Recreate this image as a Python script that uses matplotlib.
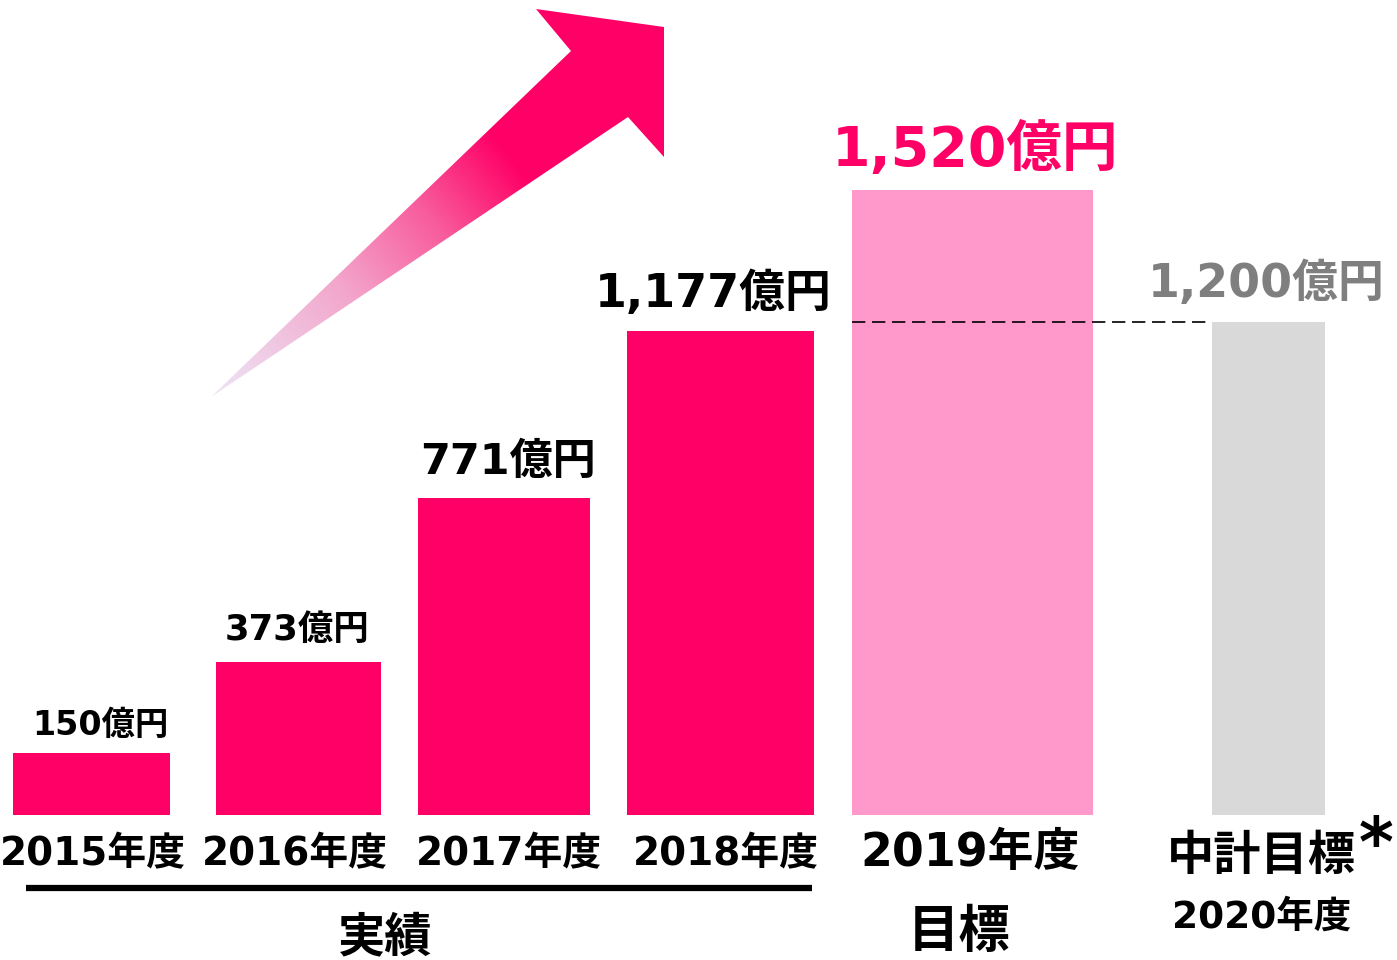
import matplotlib
matplotlib.use("Agg")
import matplotlib.pyplot as plt
import numpy as np
from matplotlib.colors import LinearSegmentedColormap
from matplotlib.patches import Polygon

plt.rcParams["font.family"] = ["DejaVu Sans", "Noto Sans CJK JP"]
plt.rcParams["font.weight"] = "bold"

# data
years = ["2015年度", "2016年度", "2017年度", "2018年度", "2019年度", "中計目標"]
values = [150, 373, 771, 1177, 1520, 1200]
value_labels = ["150億円", "373億円", "771億円", "1,177億円", "1,520億円", "1,200億円"]

# layout (pixel positions on a 1397x960 canvas)
bar_left = [13, 216, 418, 627, 852, 1212]
bar_right = [170, 381, 590, 814, 1093, 1325]
bar_colors = ["#FF0066"] * 4 + ["#FF99CC", "#D9D9D9"]
label_colors = ["black"] * 4 + ["#FF0066", "#7F7F7F"]
label_x = [100, 297, 508, 713, 975, 1266]
label_size = [24, 25.5, 31, 33, 40, 33]
label_gap = [18, 22, 24, 24, 24, 25]

W, H, BASE = 1397, 960, 815
PX = 0.411  # pixels per 億円

fig = plt.figure(figsize=(W / 100, H / 100), dpi=100)
ax = fig.add_axes([0, 0, 1, 1])
ax.set_xlim(0, W)
ax.set_ylim(-(H - BASE) / PX, BASE / PX)
ax.axis("off")

centers = [(l + r) / 2 for l, r in zip(bar_left, bar_right)]
widths = [r - l for l, r in zip(bar_left, bar_right)]
ax.bar(centers, values, width=widths, color=bar_colors, zorder=2)

for x, v, txt, c, fs, gap in zip(label_x, values, value_labels, label_colors, label_size, label_gap):
    ax.annotate(txt, (x, v), xytext=(0, gap * 0.72), textcoords="offset points",
                ha="center", va="baseline", fontsize=fs, color=c, fontweight="bold")

# dashed reference line from 2019 bar to the 中計 target
ax.plot([bar_left[4], bar_left[5]], [values[5], values[5]], ls=(0, (8, 4)), color="black", lw=1.2, zorder=3)

# overlay axes in pixel coordinates for decorations
ov = fig.add_axes([0, 0, 1, 1], facecolor="none")
ov.set_xlim(0, W)
ov.set_ylim(H, 0)
ov.axis("off")

# gradient arrow
arrow_pts = np.array([[211, 397], [571, 51], [536, 9], [664, 27], [664, 157], [628, 117]])
poly = Polygon(arrow_pts, closed=True, facecolor="none", edgecolor="none")
ov.add_patch(poly)
cmap = LinearSegmentedColormap.from_list(
    "arr", [(0, "#EDE6F6"), (0.3, "#F3A6CC"), (0.5, "#F85C9C"), (0.68, "#FF0066"), (1, "#FF0066")])
gx, gy = np.meshgrid(np.linspace(200, 670, 300), np.linspace(0, 400, 300))
d = np.array([650 - 211, 40 - 397], dtype=float)
t = ((gx - 211) * d[0] + (gy - 397) * d[1]) / (d @ d)
im = ov.imshow(np.clip(t, 0, 1), extent=(200, 670, 400, 0), cmap=cmap, vmin=0, vmax=1,
               origin="upper", aspect="auto", zorder=1)
im.set_clip_path(poly)

# category labels
for x, txt in zip([93, 295, 509, 726], years[:4]):
    ov.text(x, 865, txt, ha="center", va="baseline", fontsize=28, fontweight="bold")
ov.text(970, 866, years[4], ha="center", va="baseline", fontsize=33, fontweight="bold")
ov.text(1261, 870, years[5], ha="center", va="baseline", fontsize=34, fontweight="bold")
ov.text(1376, 866, "*", ha="center", va="baseline", fontsize=48, fontweight="bold")
ov.text(1262, 928, "2020年度", ha="center", va="baseline", fontsize=27, fontweight="bold")
ov.text(959, 947, "目標", ha="center", va="baseline", fontsize=37, fontweight="bold")
ov.text(385, 951, "実績", ha="center", va="baseline", fontsize=34, fontweight="bold")
ov.plot([26, 812], [888, 888], color="black", lw=4.5, solid_capstyle="butt")

fig.savefig("out.png", dpi=100)
